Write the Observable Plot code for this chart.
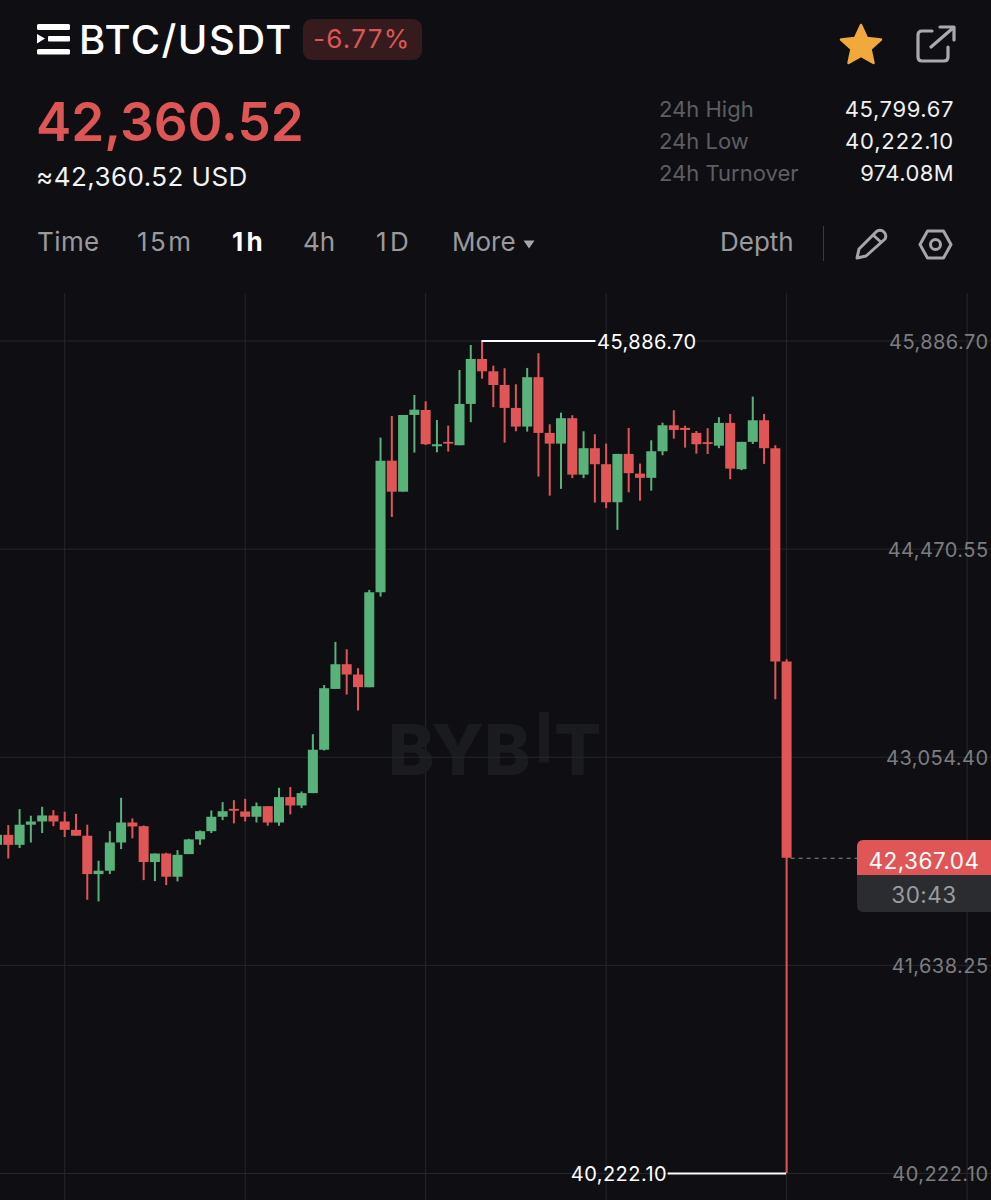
<!DOCTYPE html>
<html><head><meta charset="utf-8">
<script src="https://cdn.jsdelivr.net/npm/d3@7"></script>
<script src="https://cdn.jsdelivr.net/npm/@observablehq/plot@0.6"></script>
<style>
html,body{margin:0;padding:0;background:#0f0f13;width:991px;height:1200px;overflow:hidden;font-family:Inter,"Noto Sans",sans-serif}
#page{position:relative;width:991px;height:1200px;overflow:hidden}
.t{position:absolute;white-space:nowrap;line-height:1}
#chart{position:absolute;left:0;top:293px}
#chart svg{display:block}
#chart text{letter-spacing:.45px}
.ic{position:absolute;overflow:visible}
</style></head><body>
<div id="page">
<svg class="ic" style="left:37px;top:23px" width="34" height="32" viewBox="0 0 34 32"><g fill="#fff"><rect x="0" y="1" width="33" height="6" rx="1.5"/><rect x="11" y="13" width="22" height="5.5" rx="1"/><rect x="0" y="26" width="33" height="5.5" rx="1.5"/><path d="M0 11 L8 15.5 L0 20.5Z"/></g></svg>
<div class="t" style="left:79px;top:20px;font-size:40px;font-weight:500;letter-spacing:1.45px;color:#fff">BTC/USDT</div>
<div style="position:absolute;left:303px;top:19px;width:119px;height:41px;border-radius:9px;background:#361b1e"></div>
<div class="t" style="left:313px;top:26px;font-size:26px;color:#de5555;letter-spacing:1.3px">-6.77%</div>
<div class="t" style="left:36px;top:96px;font-size:53px;font-weight:600;color:#de5555">42,360.52</div>
<div class="t" style="left:36px;top:164px;font-size:26px;letter-spacing:.45px;color:#f2f2f2">≈42,360.52 USD</div>

<div class="t" style="left:37px;top:229px;font-size:26px;letter-spacing:.4px;color:#9a9a9e">Time</div>
<div class="t" style="left:137px;top:229px;font-size:26px;letter-spacing:2.4px;color:#9a9a9e">15m</div>
<div class="t" style="left:232px;top:229px;font-size:26px;font-weight:700;letter-spacing:3.4px;color:#fff">1h</div>
<div class="t" style="left:303px;top:229px;font-size:26px;color:#9a9a9e">4h</div>
<div class="t" style="left:376px;top:229px;font-size:26px;letter-spacing:3.4px;color:#9a9a9e">1D</div>
<div class="t" style="left:452px;top:229px;font-size:26px;color:#9a9a9e">More</div>
<svg class="ic" style="left:523px;top:240px" width="12" height="9"><path d="M0.5 0.5H11.5L6 8.5Z" fill="#a5a6aa"/></svg>
<div class="t" style="left:720px;top:229px;font-size:26px;color:#9a9a9e">Depth</div>
<div style="position:absolute;left:823px;top:226px;width:1px;height:35px;background:#3a3b40"></div>
<svg class="ic" style="left:854px;top:228px" width="34" height="33" viewBox="0 0 34 33"><g fill="none" stroke="#a5a6aa" stroke-width="3" stroke-linejoin="round"><path d="M23 3 Q27 1 30 4 Q33 7 31 11 L12 28 L3 30 L5 21Z"/><path d="M19 7 L28 15"/></g></svg>
<svg class="ic" style="left:918px;top:229px" width="35" height="31" viewBox="0 0 35 31"><g fill="none" stroke="#a5a6aa" stroke-width="3"><path d="M9.5 2H25.5L33 15.5L25.5 29H9.5L2 15.5Z" stroke-linejoin="round"/><circle cx="17.5" cy="15.5" r="5"/></g></svg>
<svg class="ic" style="left:839px;top:23px" width="44" height="42" viewBox="0 0 44 42"><path d="M22 2L28 15L42 16.5L31.5 26L34.5 40L22 33L9.5 40L12.5 26L2 16.5L16 15Z" fill="#f0a93a" stroke="#f0a93a" stroke-width="2.5" stroke-linejoin="round"/></svg>
<svg class="ic" style="left:916px;top:25px" width="40" height="39" viewBox="0 0 40 39"><g fill="none" stroke="#a9aaae" stroke-width="3.2" stroke-linecap="round" stroke-linejoin="round"><path d="M16 6H6Q2 6 2 10V32Q2 36 6 36H28Q32 36 32 32V22"/><path d="M15 22L37 3"/><path d="M24 2H38V15"/></g></svg>

<div class="t" style="left:659px;top:98px;font-size:22px;color:#5d5e63">24h High</div>
<div class="t" style="left:659px;top:130px;font-size:22px;color:#5d5e63">24h Low</div>
<div class="t" style="left:659px;top:162px;font-size:22px;color:#5d5e63">24h Turnover</div>
<div class="t" style="right:37px;top:98px;font-size:22px;letter-spacing:.6px;color:#f0f0f0">45,799.67</div>
<div class="t" style="right:37px;top:130px;font-size:22px;letter-spacing:.85px;color:#f0f0f0">40,222.10</div>
<div class="t" style="right:37px;top:162px;font-size:22px;letter-spacing:.4px;color:#f0f0f0">974.08M</div>

<div id="chart"></div>

<div style="position:absolute;left:857px;top:840px;width:134px;height:36px;background:#e05656;border-radius:6px 0 0 0"></div>
<div style="position:absolute;left:857px;top:875px;width:134px;height:37px;background:#2b2c30;border-radius:0 0 0 6px"></div>
<div class="t" style="left:857px;width:134px;text-align:center;top:850px;font-size:22.5px;letter-spacing:.5px;color:#fff">42,367.04</div>
<div class="t" style="left:857px;width:134px;text-align:center;top:884px;font-size:22.5px;letter-spacing:.5px;color:#9a9ba0">30:43</div>
</div>
<script>
const opens = [42455,42523,42455,42592,42614,42655,42614,42557,42517,42256,42279,42471,42607,42582,42338,42396,42238,42392,42492,42548,42646,42700,42682,42646,42718,42607,42780,42723,42807,43102,43516,43684,43614,43528,44174,45069,44858,45380,45414,45167,45197,45174,45455,45761,45677,45584,45428,45301,45637,45258,45185,45358,44974,45154,45045,44786,45115,44981,44952,45133,45310,45292,45258,45195,45171,45326,45011,45197,45344,45154,43702];
const highs = [42523,42589,42698,42653,42714,42691,42680,42666,42592,42347,42548,42775,42635,42587,42396,42401,42419,42496,42553,42689,42746,42759,42768,42743,42718,42843,42848,42818,43208,43542,43836,43786,43657,44190,45226,45373,45380,45516,45473,45346,45307,45686,45856,45886.7,45716,45698,45589,45700,45800,45317,45396,45378,45269,45249,45185,45115,45292,45049,45208,45328,45412,45307,45271,45290,45365,45387,45197,45505,45387,45174,43718];
const lows = [42455,42362,42433,42471,42535,42582,42508,42517,42081,42070,42256,42426,42499,42215,42208,42181,42206,42392,42455,42535,42623,42601,42614,42607,42585,42585,42662,42705,42807,43097,43516,43478,43369,43528,44144,44686,44858,45124,45176,45126,45131,45174,45331,45627,45433,45192,45269,45267,44961,44831,44877,44950,44950,44784,44746,44598,44854,44797,44865,45106,45219,45158,45117,45115,45154,44943,45004,45183,45047,43446,40222.1];
const closes = [42523,42455,42592,42614,42655,42614,42557,42517,42256,42279,42471,42607,42580,42338,42396,42238,42387,42492,42548,42646,42684,42687,42646,42718,42607,42780,42723,42807,43102,43521,43684,43614,43528,44174,45069,44858,45380,45416,45181,45181,45185,45455,45761,45677,45584,45428,45301,45637,45258,45185,45358,44974,45154,45045,44786,45115,44984,44952,45133,45310,45278,45278,45181,45183,45326,45015,45197,45344,45154,43702,42367.04];
const priceTicks = [45886.70,44470.55,43054.40,41638.25,40222.10];
const gridCandles = [6,22,38,54,70,86];
const highPrice = 45886.70, lowPrice = 40222.10, lastPrice = 42367.04;
const watermarkLetters = ["B","Y","B","T"];
const watermarkAt = [36.74,40.87,45.26,51.5];

const GREEN = "#58b27a", RED = "#e05656", GRID = "#26272b", WM = "#1a1b1f", FONT = "Inter, 'Noto Sans', sans-serif";
const candles = opens.map((o,i)=>({i,o,h:highs[i],l:lows[i],c:closes[i]}));
const color = d => d.c >= d.o ? GREEN : RED;
const fmt = d3.format(",.2f");

const chart = Plot.plot({
  width: 991, height: 907,
  marginTop:0, marginRight:0, marginBottom:0, marginLeft:0,
  style:{background:"transparent"},
  x:{domain:[0.264,88.12], range:[-0.5,990.5], axis:null},
  y:{domain:[lowPrice,highPrice], range:[880,47.5], axis:null},
  marks:[
    Plot.gridX(gridCandles,{x:d=>d,stroke:GRID,strokeOpacity:1,strokeWidth:1}),
    // watermark
    Plot.text(watermarkLetters,{x:(d,i)=>watermarkAt[i],y:()=>43088,text:d=>d,fill:WM,fontSize:70,fontWeight:800,fontFamily:FONT}),
    Plot.ruleX([48.5],{x:d=>d,y1:()=>43360,y2:()=>43015,stroke:WM,strokeWidth:10}),
    Plot.gridY(priceTicks,{y:d=>d,stroke:GRID,strokeOpacity:1,strokeWidth:1}),
    // axis labels
    Plot.text(priceTicks,{y:d=>d,text:fmt,frameAnchor:"right",dx:-3,dy:1.5,fill:"#7c7d81",fontSize:20,fontFamily:FONT}),
    // candles
    Plot.ruleX(candles,{x:"i",y1:"l",y2:"h",stroke:color,strokeWidth:2,clip:true}),
    Plot.ruleX(candles,{x:"i",y1:"o",y2:"c",stroke:color,strokeWidth:10,clip:true}),
    // high / low callouts
    Plot.ruleY([highPrice],{y:d=>d,x1:()=>43,x2:()=>53.1,stroke:"#fff",strokeWidth:2}),
    Plot.text([highPrice],{y:d=>d,x:()=>53.2,dy:1.5,text:fmt,textAnchor:"start",fill:"#fff",fontSize:20,fontFamily:FONT}),
    Plot.ruleY([lowPrice],{y:d=>d,x1:()=>59.5,x2:()=>70,stroke:"#fff",strokeWidth:2}),
    Plot.text([lowPrice],{y:d=>d,x:()=>59.4,dy:1.5,text:fmt,textAnchor:"end",fill:"#fff",fontSize:20,fontFamily:FONT}),
    // last price dashed
    Plot.ruleY([lastPrice],{y:d=>d,x1:()=>70.4,x2:()=>76.3,stroke:"#7f8f88",strokeWidth:1,strokeDasharray:"4,4"})
  ]
});
document.getElementById("chart").append(chart);
</script>
</body></html>
